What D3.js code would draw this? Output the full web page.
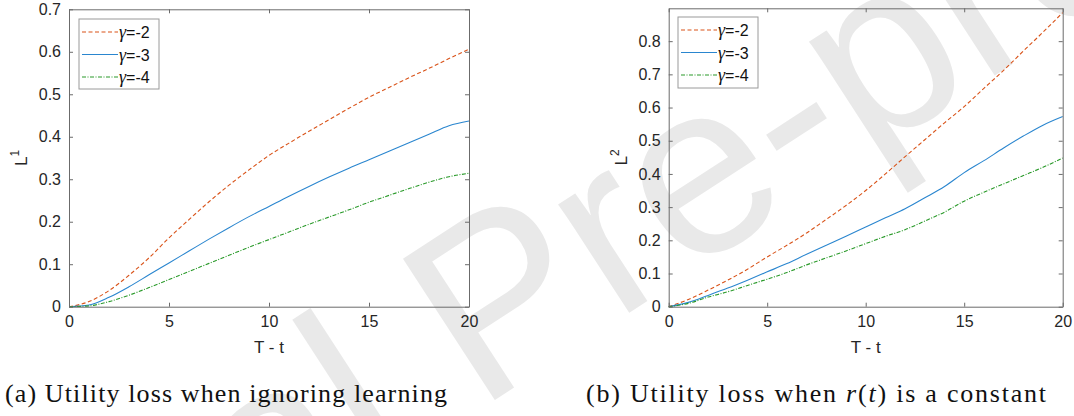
<!DOCTYPE html>
<html>
<head>
<meta charset="utf-8">
<script src="https://cdn.jsdelivr.net/npm/d3@7/dist/d3.min.js"></script>
<style>
  body { margin: 0; background: #fff; }
  svg { display: block; }
</style>
</head>
<body>
<svg id="svg"></svg>
<script>
var width = 1074,
    height = 416;

// horizon T - t, sampled every unit
var horizon = [0, 1, 2, 3, 4, 5, 6, 7, 8, 9, 10, 11, 12, 13, 14, 15, 16, 17, 18, 19, 20];

// panel (a): L^1, utility loss when ignoring learning
var lossA_g2 = [0, 0.012, 0.038, 0.074, 0.115, 0.162, 0.205, 0.247, 0.286, 0.322, 0.356, 0.385, 0.413, 0.440, 0.467, 0.493, 0.516, 0.539, 0.561, 0.584, 0.606];
var lossA_g3 = [0, 0.004, 0.022, 0.047, 0.075, 0.103, 0.131, 0.159, 0.186, 0.212, 0.236, 0.260, 0.283, 0.305, 0.326, 0.346, 0.366, 0.386, 0.406, 0.426, 0.437];
var lossA_g4 = [0, 0.002, 0.012, 0.027, 0.045, 0.064, 0.083, 0.102, 0.121, 0.140, 0.158, 0.176, 0.194, 0.211, 0.228, 0.246, 0.262, 0.278, 0.293, 0.306, 0.314];

// panel (b): L^2, utility loss when r(t) is a constant
var lossB_g2 = [0, 0.022, 0.050, 0.080, 0.113, 0.150, 0.185, 0.222, 0.263, 0.305, 0.350, 0.400, 0.452, 0.503, 0.554, 0.603, 0.658, 0.712, 0.770, 0.827, 0.886];
var lossB_g3 = [0, 0.013, 0.034, 0.056, 0.080, 0.105, 0.130, 0.158, 0.185, 0.212, 0.240, 0.268, 0.295, 0.328, 0.362, 0.404, 0.440, 0.478, 0.514, 0.547, 0.573];
var lossB_g4 = [0, 0.010, 0.029, 0.045, 0.064, 0.083, 0.103, 0.126, 0.147, 0.168, 0.190, 0.212, 0.232, 0.258, 0.285, 0.318, 0.345, 0.370, 0.395, 0.420, 0.448];

var legendLabels = ["-2", "-3", "-4"];
var xTicks = [0, 5, 10, 15, 20];
var yTicksA = [0, 0.1, 0.2, 0.3, 0.4, 0.5, 0.6, 0.7];
var yTicksB = [0, 0.1, 0.2, 0.3, 0.4, 0.5, 0.6, 0.7, 0.8];

var colors = ["#d95319", "#2a86cf", "#2a9a2a"];
var dashes = ["4,2.5", null, "4,1.5,1,1.5"];

var svg = d3.select("#svg")
    .attr("width", width)
    .attr("height", height);

// faint "Journal Pre-proof" watermark behind the figure (clipped to the page)
svg.append("clipPath").attr("id", "page")
  .append("rect").attr("width", width).attr("height", height);
var wm = svg.append("g")
    .attr("clip-path", "url(#page)")
  .append("g")
    .attr("transform", "translate(478,411) rotate(-33)")
    .attr("fill", "#e9e9e9")
    .attr("font-family", "Liberation Sans, Arial, sans-serif")
    .attr("font-size", 245);
wm.append("text").attr("text-anchor", "end").attr("x", -68).text("Journal");
wm.append("text").attr("text-anchor", "start").attr("x", 0).text("Pre-proof");

var panels = [
  { left: 69, right: 469, top: 9.3, bottom: 306.7, ymax: 0.7, yTicks: yTicksA,
    series: [lossA_g2, lossA_g3, lossA_g4], sup: "1",
    legend: { x: 79, y: 19, w: 80, h: 70 },
    capX: 5, capW: 442 },
  { left: 668.7, right: 1062.7, top: 8.3, bottom: 306.7, ymax: 0.899, yTicks: yTicksB,
    series: [lossB_g2, lossB_g3, lossB_g4], sup: "2",
    legend: { x: 678, y: 17, w: 80, h: 71 },
    capX: 586, capW: 460 }
];

var tickFmt = function(d) { return d === 0 ? "0" : d3.format(".1f")(d); };

panels.forEach(function(p, pi) {
  var x = d3.scaleLinear().domain([0, 20]).range([p.left, p.right]);
  var y = d3.scaleLinear().domain([0, p.ymax]).range([p.bottom, p.top]);
  var g = svg.append("g");

  // lines
  var line = d3.line()
      .x(function(d) { return x(d[0]); })
      .y(function(d) { return y(d[1]); })
      .curve(d3.curveMonotoneX);

  p.series.forEach(function(s, i) {
    g.append("path")
        .datum(horizon.map(function(h, k) { return [h, s[k]]; }))
        .attr("fill", "none")
        .attr("stroke", colors[i])
        .attr("stroke-width", 1.1)
        .attr("stroke-dasharray", dashes[i])
        .attr("d", line);
  });

  // axes, MATLAB style: box with inward ticks on all sides
  var axColor = "#6b6b6b";
  var bottomAx = g.append("g")
      .attr("transform", "translate(0," + p.bottom + ")")
      .call(d3.axisBottom(x).tickValues(xTicks).tickSizeInner(-4).tickSizeOuter(0).tickPadding(9));
  var topAx = g.append("g")
      .attr("transform", "translate(0," + p.top + ")")
      .call(d3.axisTop(x).tickValues(xTicks).tickSizeInner(-4).tickSizeOuter(0).tickFormat(""));
  var leftAx = g.append("g")
      .attr("transform", "translate(" + p.left + ",0)")
      .call(d3.axisLeft(y).tickValues(p.yTicks).tickFormat(tickFmt).tickSizeInner(-4).tickSizeOuter(0).tickPadding(8));
  var rightAx = g.append("g")
      .attr("transform", "translate(" + p.right + ",0)")
      .call(d3.axisRight(y).tickValues(p.yTicks).tickSizeInner(-4).tickSizeOuter(0).tickFormat(""));

  [bottomAx, topAx, leftAx, rightAx].forEach(function(a) {
    a.select(".domain").attr("stroke", axColor);
    a.selectAll(".tick line").attr("stroke", axColor);
    a.selectAll("text")
        .attr("fill", "#262626")
        .attr("font-family", "Liberation Sans, Arial, sans-serif")
        .attr("font-size", 16);
  });

  // axis labels
  g.append("text")
      .attr("x", (p.left + p.right) / 2)
      .attr("y", 353)
      .attr("text-anchor", "middle")
      .attr("fill", "#262626")
      .attr("font-family", "Liberation Sans, Arial, sans-serif")
      .attr("font-size", 17)
      .text("T - t");

  var yl = g.append("text")
      .attr("transform", "translate(" + (p.left - 42) + "," + ((p.top + p.bottom) / 2) + ") rotate(-90)")
      .attr("text-anchor", "middle")
      .attr("fill", "#262626")
      .attr("font-family", "Liberation Sans, Arial, sans-serif")
      .attr("font-size", 17);
  yl.append("tspan").text("L");
  yl.append("tspan").attr("dy", -8).attr("font-size", 12).text(p.sup);

  // legend
  var lg = g.append("g");
  lg.append("rect")
      .attr("x", p.legend.x).attr("y", p.legend.y)
      .attr("width", p.legend.w).attr("height", p.legend.h)
      .attr("fill", "#fff")
      .attr("stroke", "#9a9a9a");
  legendLabels.forEach(function(lbl, i) {
    var ly = p.legend.y + 13 + i * 22.5;
    lg.append("line")
        .attr("x1", p.legend.x + 3).attr("x2", p.legend.x + 39)
        .attr("y1", ly).attr("y2", ly)
        .attr("stroke", colors[i])
        .attr("stroke-width", 1.1)
        .attr("stroke-dasharray", dashes[i]);
    var t = lg.append("text")
        .attr("x", p.legend.x + 40)
        .attr("y", ly + 6)
        .attr("fill", "#111")
        .attr("font-family", "Liberation Sans, Arial, sans-serif")
        .attr("font-size", 16);
    t.append("tspan").attr("font-family", "Liberation Serif, serif").attr("font-style", "italic").attr("font-size", 18).text("\u03b3");
    t.append("tspan").text("=" + lbl);
  });

  // captions
  var cap = svg.append("text")
      .attr("x", p.capX)
      .attr("y", 402)
      .attr("fill", "#111")
      .attr("font-family", "Liberation Serif, Times New Roman, serif")
      .attr("font-size", 26)
      .attr("textLength", p.capW)
      .attr("lengthAdjust", "spacing");
  if (pi === 0) {
    cap.text("(a) Utility loss when ignoring learning");
  } else {
    cap.append("tspan").text("(b) Utility loss when ");
    cap.append("tspan").attr("font-style", "italic").text("r");
    cap.append("tspan").text("(");
    cap.append("tspan").attr("font-style", "italic").text("t");
    cap.append("tspan").text(") is a constant");
  }
});
</script>
</body>
</html>
